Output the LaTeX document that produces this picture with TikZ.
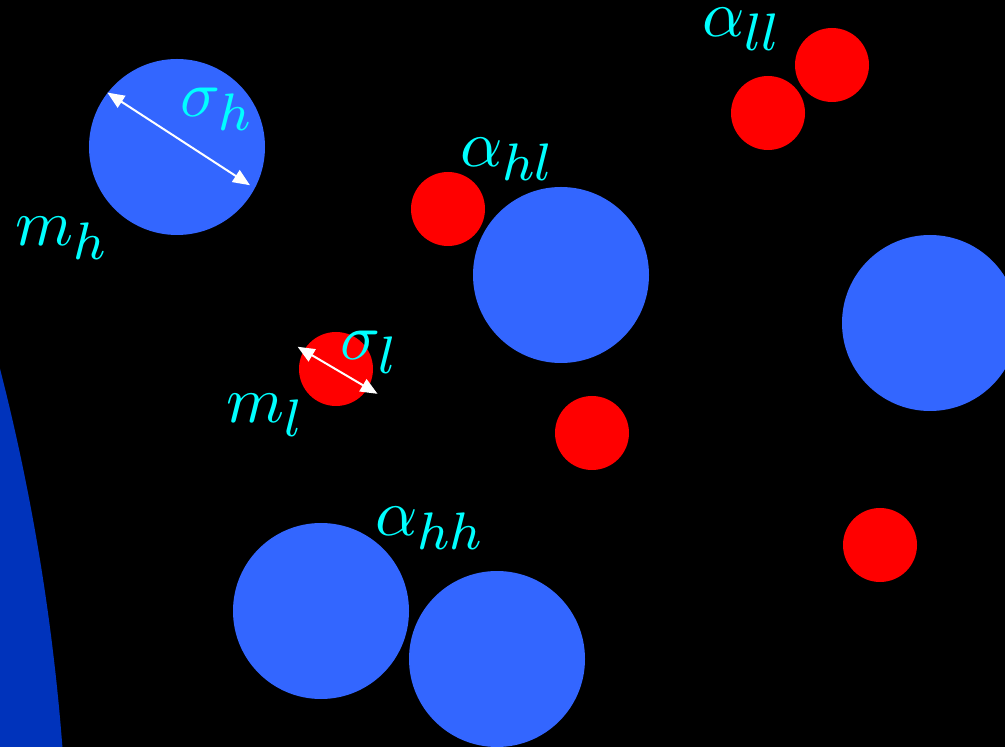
\documentclass[tikz,border=0pt]{standalone}
\usepackage{graphicx}
\usetikzlibrary{arrows.meta}
\DeclareMathSizes{10}{10}{8}{6}
\definecolor{heavy}{RGB}{51,102,255}
\definecolor{light}{RGB}{255,0,0}
\definecolor{wall}{RGB}{0,51,187}
\definecolor{lbl}{RGB}{0,255,255}
\newcommand{\symtxt}[1]{\scalebox{3.3}{$#1$}}
\tikzset{
  hpart/.style={circle,fill=heavy,minimum size=88pt,inner sep=0pt},
  lpart/.style={circle,fill=light,minimum size=37pt,inner sep=0pt},
  sym/.style={text=lbl,inner sep=0pt,anchor=base west,font=\normalsize},
  dia/.style={white,line width=1pt,{Triangle[length=8.5pt,width=7pt]}-{Triangle[length=8.5pt,width=7pt]}}
}
\begin{document}
\begin{tikzpicture}[x=0.5pt,y=-0.5pt]
\clip (0,0) rectangle (1005,747);
\fill[black] (0,0) rectangle (1005,747);
% wall of the container
\fill[wall] (-2143,919) circle (2212);

% heavy particles
\node[hpart] (h1) at (177,147) {};
\node[hpart] (h2) at (561,275) {};
\node[hpart] (h3) at (930,323) {};
\node[hpart] (h4) at (321,611) {};
\node[hpart] (h5) at (497,659) {};

% light particles
\node[lpart] (l1) at (832,65) {};
\node[lpart] (l2) at (768,113) {};
\node[lpart] (l3) at (448,209) {};
\node[lpart] (l4) at (336,369) {};
\node[lpart] (l5) at (592,433) {};
\node[lpart] (l6) at (880,545) {};

% diameters
\draw[dia,shorten >=3pt] (h1.142) -- (h1.-28);
\draw[dia,shorten <=-3.5pt,shorten >=-5.5pt] (l4.150) -- (l4.-31);

\node[sym] (sh) at (180,117) {\symtxt{\sigma_h}};
\node[sym] (mh) at (15,246) {\symtxt{m_h}};
\node[sym] (all) at (702,37) {\symtxt{\alpha_{ll}}};
\node[sym] (ahl) at (460,167) {\symtxt{\alpha_{hl}}};
\node[sym] (sl) at (340,360) {\symtxt{\sigma_l}};
\node[sym] (ml) at (226,423) {\symtxt{m_l}};
\node[sym] (ahh) at (375,536) {\symtxt{\alpha_{hh}}};
\end{tikzpicture}
\end{document}
